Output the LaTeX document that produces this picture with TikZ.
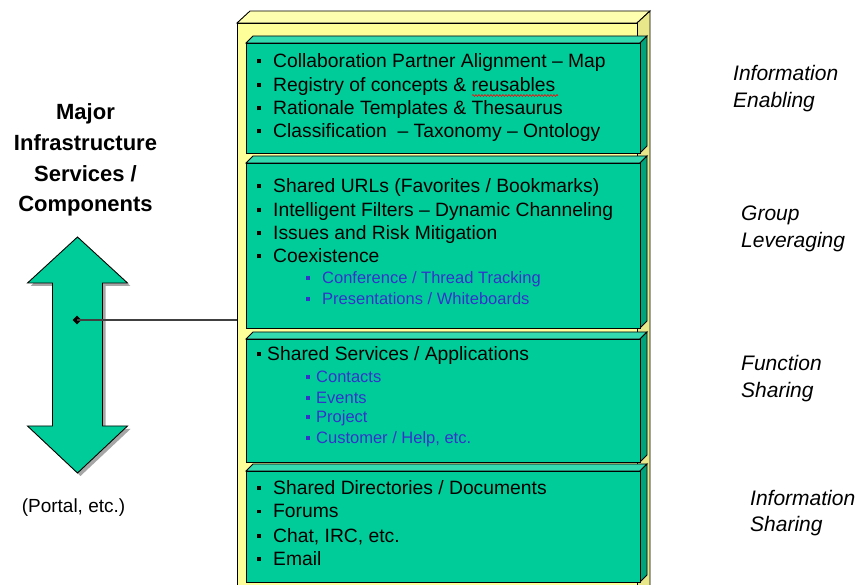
\documentclass[tikz,border=0pt]{standalone}
\usepackage{fontspec}
\setmainfont{Liberation Sans}
\usetikzlibrary{shapes.geometric,decorations.pathmorphing}

\definecolor{slabfront}{HTML}{00CC99}
\definecolor{slabtop}{HTML}{33D9AF}
\definecolor{slabside}{HTML}{00A47C}
\definecolor{frameface}{HTML}{FFFF99}
\definecolor{frametop}{HTML}{FFFFB0}
\definecolor{frameside}{HTML}{E8E88A}
\definecolor{subblue}{HTML}{3333CC}

% bullet item: square marker followed by the text at a given indent
\newcommand\bitem[2]{\makebox[#1][l]{\rule[4.5pt]{4pt}{4pt}}#2}
\newcommand\sitem[2]{\makebox[#1][l]{\rule[4pt]{3.5pt}{3.5pt}}#2}

% one slab of the stack: front face from y=#1 to y=#2, with top and side faces
\newcommand\slab[2]{%
  \filldraw[edge,fill=slabtop] (246,#1) -- (253,{#1-7}) -- (647,{#1-7}) -- (640,#1) -- cycle;
  \filldraw[edge,fill=slabside] (640,#1) -- (647,{#1-7}) -- (647,{#2-7}) -- (640,#2) -- cycle;
  \filldraw[edge,fill=slabfront] (246,#1) rectangle (640,#2);
}

\begin{document}
\begin{tikzpicture}[x=1pt,y=-1pt,
  edge/.style={draw=black,line width=0.9pt,line join=miter},
  item/.style={anchor=base west,inner sep=0pt,font=\fontsize{19.3}{23}\selectfont},
  subitem/.style={anchor=base west,inner sep=0pt,text=subblue,font=\fontsize{16.5}{20}\selectfont},
  side/.style={anchor=base west,inner sep=0pt,align=left,font=\fontsize{21}{27}\selectfont\itshape},
  title/.style={align=center,inner sep=0pt,font=\fontsize{22}{30.7}\selectfont\bfseries},
  note/.style={anchor=base,inner sep=0pt,font=\fontsize{19}{22}\selectfont}]

\useasboundingbox (0,0) rectangle (863,585);
\clip (0,0) rectangle (863,585);

% yellow frame holding the stack
\filldraw[edge,fill=frametop] (237,23) -- (250,11) -- (650,11) -- (637,23) -- cycle;
\filldraw[edge,fill=frameside] (637,23) -- (650,11) -- (650,600) -- (637,600) -- cycle;
\filldraw[edge,fill=frameface] (237,23) rectangle (637,600);
\coordinate (frameleft) at (237,320);

% the four slabs
\slab{43}{153}
\slab{163}{328}
\slab{339}{462}
\slab{471}{582}

% layer 1
\node[item] (a1) at (257,68)  {\bitem{16pt}{Collaboration Partner Alignment – Map}};
\node[item] (a2) at (257,91.5){\bitem{16pt}{Registry of concepts \& reusables}};
\node[item] (a3) at (257,115) {\bitem{16pt}{Rationale Templates \& Thesaurus}};
\node[item] (a4) at (257,138) {\bitem{16pt}{Classification\ \ – Taxonomy – Ontology}};
\draw[red,line width=0.6pt,decorate,decoration={snake,amplitude=0.9pt,segment length=3pt}]
  (472,95.5) -- (558,95.5);

% layer 2
\node[item] (b1) at (257,193) {\bitem{16pt}{Shared URLs (Favorites / Bookmarks)}};
\node[item] (b2) at (257,217) {\bitem{16pt}{Intelligent Filters – Dynamic Channeling}};
\node[item] (b3) at (257,240) {\bitem{16pt}{Issues and Risk Mitigation}};
\node[item] (b4) at (257,263) {\bitem{16pt}{Coexistence}};
\node[subitem] (b5) at (306,284) {\sitem{16pt}{Conference / Thread Tracking}};
\node[subitem] (b6) at (306,305) {\sitem{16pt}{Presentations / Whiteboards}};

% layer 3
\node[item] (c1) at (257,361) {\bitem{10pt}{Shared Services / Applications}};
\node[subitem] (c2) at (306,383) {\sitem{10pt}{Contacts}};
\node[subitem] (c3) at (306,404) {\sitem{10pt}{Events}};
\node[subitem] (c4) at (306,423) {\sitem{10pt}{Project}};
\node[subitem] (c5) at (306,444) {\sitem{10pt}{Customer / Help, etc.}};

% layer 4
\node[item] (d1) at (257,494) {\bitem{16pt}{Shared Directories / Documents}};
\node[item] (d2) at (257,518) {\bitem{16pt}{Forums}};
\node[item] (d3) at (257,542) {\bitem{16pt}{Chat, IRC, etc.}};
\node[item] (d4) at (257,565) {\bitem{16pt}{Email}};

% layer names (base anchor sits on the second line)
\node[side] (n1) at (733,108) {Information\\Enabling};
\node[side] (n2) at (741,248) {Group\\Leveraging};
\node[side] (n3) at (741,398) {Function\\Sharing};
\node[side] (n4) at (750,532) {Information\\Sharing};

% left side: title, double arrow and note
\node[title] (ttl) at (85.5,160) {Major\\Infrastructure\\Services /\\Components};

\fill[gray!70] ([shift={(3,3)}]77.5,237) -- ([shift={(3,3)}]127.5,283) -- ([shift={(3,3)}]102.5,283)
  -- ([shift={(3,3)}]102.5,426) -- ([shift={(3,3)}]127.5,426) -- ([shift={(3,3)}]77.5,473)
  -- ([shift={(3,3)}]27.5,426) -- ([shift={(3,3)}]52.5,426) -- ([shift={(3,3)}]52.5,283)
  -- ([shift={(3,3)}]27.5,283) -- cycle;
\filldraw[edge,fill=slabfront] (77.5,237) -- (127.5,283) -- (102.5,283) -- (102.5,426)
  -- (127.5,426) -- (77.5,473) -- (27.5,426) -- (52.5,426) -- (52.5,283) -- (27.5,283) -- cycle;

\node[diamond,fill=black,inner sep=0pt,minimum size=9pt] (hub) at (77,320) {};
\draw[black!75,line width=1.2pt] (hub.center) -- (frameleft);

\node[note] (portal) at (73.5,512) {(Portal, etc.)};
\end{tikzpicture}
\end{document}
